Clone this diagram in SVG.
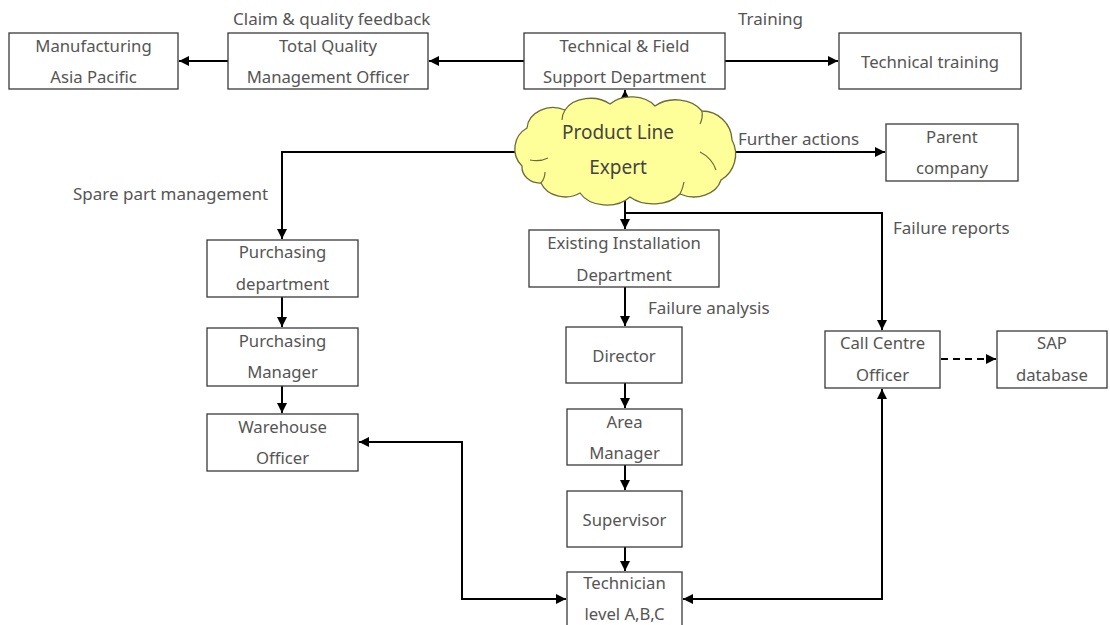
<svg xmlns="http://www.w3.org/2000/svg" width="1110" height="625" viewBox="0 0 1110 625">
  <defs>
    <marker id="arrow" viewBox="0 0 10 10" refX="10" refY="5" markerWidth="5" markerHeight="5" orient="auto-start-reverse" markerUnits="strokeWidth">
      <path d="M0,0 L10,5 L0,10 Z" fill="#000"/>
    </marker>
    <style>
      .box { fill: #fff; stroke: #3a3a3a; stroke-width: 1.3; }
      .lbl { font-family: "Noto Sans", "Open Sans", sans-serif; font-size: 16.7px; fill: #555; text-anchor: middle; dominant-baseline: central; }
      .cap { font-family: "Noto Sans", "Open Sans", sans-serif; font-size: 17px; fill: #555; dominant-baseline: central; }
      .cl { font-family: "Noto Sans", "Open Sans", sans-serif; font-size: 19px; fill: #444; text-anchor: middle; dominant-baseline: central; }
      .ln { fill: none; stroke: #000; stroke-width: 2; }
      .arr { marker-end: url(#arrow); }
      .both { marker-start: url(#arrow); marker-end: url(#arrow); }
      .dash { stroke-dasharray: 7 5; }
    </style>
  </defs>
  <rect width="1110" height="625" fill="#fff"/>

  <!-- connectors -->
  <g id="connectors">
    <line class="ln arr" x1="524" y1="61" x2="429" y2="61"/>
    <line class="ln arr" x1="228" y1="61" x2="179" y2="61"/>
    <line class="ln arr" x1="725" y1="61" x2="838" y2="61"/>
    <line class="ln arr" x1="625" y1="112" x2="625" y2="90"/>
    <line class="ln arr" x1="735" y1="152" x2="885" y2="152"/>
    <polyline class="ln arr" points="515,152 282,152 282,239"/>
    <line class="ln arr" x1="625" y1="196" x2="625" y2="229"/>
    <polyline class="ln arr" points="625,213 882,213 882,330"/>
    <line class="ln arr" x1="282" y1="297" x2="282" y2="327"/>
    <line class="ln arr" x1="282" y1="386" x2="282" y2="413"/>
    <line class="ln arr" x1="625" y1="287" x2="625" y2="326"/>
    <line class="ln arr" x1="625" y1="383" x2="625" y2="408"/>
    <line class="ln arr" x1="625" y1="465" x2="625" y2="490"/>
    <line class="ln arr" x1="625" y1="547" x2="625" y2="571"/>
    <polyline class="ln both" points="359,442 462,442 462,599 566,599"/>
    <polyline class="ln both" points="683,599 882,599 882,389"/>
    <line class="ln arr dash" x1="941" y1="359" x2="996" y2="359"/>
  </g>

  <!-- connector captions -->
  <g id="captions">
    <text class="cap" x="233" y="18">Claim &amp; quality feedback</text>
    <text class="cap" x="738" y="18">Training</text>
    <text class="cap" x="738" y="138">Further actions</text>
    <text class="cap" x="73" y="193">Spare part management</text>
    <text class="cap" x="893" y="227">Failure reports</text>
    <text class="cap" x="648" y="307">Failure analysis</text>
  </g>

  <g id="manufacturing">
    <rect class="box" x="9" y="33" width="169" height="56"/>
    <text class="lbl" x="93.5" y="45">Manufacturing</text>
    <text class="lbl" x="93.5" y="76">Asia Pacific</text>
  </g>

  <g id="tqm-officer">
    <rect class="box" x="228" y="33" width="200" height="56"/>
    <text class="lbl" x="328" y="45">Total Quality</text>
    <text class="lbl" x="328" y="76">Management Officer</text>
  </g>

  <g id="tech-field-support">
    <rect class="box" x="524" y="33" width="201" height="56"/>
    <text class="lbl" x="624.5" y="45">Technical &amp; Field</text>
    <text class="lbl" x="624.5" y="76">Support Department</text>
  </g>

  <g id="technical-training">
    <rect class="box" x="839" y="33" width="182" height="56"/>
    <text class="lbl" x="930" y="61">Technical training</text>
  </g>

  <g id="product-line-expert">
    <path d="M522,166 A24,24 0 0 1 527,128 A26,22 0 0 1 565,110 A28,20 0 0 1 610,104 A28,20 0 0 1 655,106 A30,22 0 0 1 702,111 A30,30 0 0 1 732,140 A30,30 0 0 1 721,180 A28,22 0 0 1 680,194 A32,22 0 0 1 630,197 A30,22 0 0 1 580,193 A26,22 0 0 1 541,183 A18,16 0 0 1 522,166 Z" fill="#ffff99" stroke="#6b6b3a" stroke-width="1.3"/>
    <path d="M530,160 Q540,162 548,158 M541,183 Q545,178 545,172 M700,152 Q712,158 716,170 M680,194 Q683,188 684,182 M565,110 Q562,115 562,120 M702,111 Q703,118 700,124" fill="none" stroke="#6b6b3a" stroke-width="1.2"/>
    <text class="cl" x="618" y="132">Product Line</text>
    <text class="cl" x="618" y="167">Expert</text>
  </g>

  <g id="parent-company">
    <rect class="box" x="886" y="124" width="132" height="57"/>
    <text class="lbl" x="952" y="136">Parent</text>
    <text class="lbl" x="952" y="167">company</text>
  </g>

  <g id="purchasing-department">
    <rect class="box" x="207" y="240" width="151" height="57"/>
    <text class="lbl" x="282.5" y="251">Purchasing</text>
    <text class="lbl" x="282.5" y="283">department</text>
  </g>

  <g id="purchasing-manager">
    <rect class="box" x="207" y="328" width="151" height="58"/>
    <text class="lbl" x="282.5" y="340">Purchasing</text>
    <text class="lbl" x="282.5" y="371">Manager</text>
  </g>

  <g id="warehouse-officer">
    <rect class="box" x="207" y="414" width="151" height="57"/>
    <text class="lbl" x="282.5" y="426">Warehouse</text>
    <text class="lbl" x="282.5" y="457">Officer</text>
  </g>

  <g id="existing-installation">
    <rect class="box" x="529" y="230" width="190" height="57"/>
    <text class="lbl" x="624" y="242">Existing Installation</text>
    <text class="lbl" x="624" y="274">Department</text>
  </g>

  <g id="director">
    <rect class="box" x="566" y="327" width="116" height="56"/>
    <text class="lbl" x="624" y="355">Director</text>
  </g>

  <g id="area-manager">
    <rect class="box" x="567" y="409" width="115" height="56"/>
    <text class="lbl" x="624.5" y="421">Area</text>
    <text class="lbl" x="624.5" y="452">Manager</text>
  </g>

  <g id="supervisor">
    <rect class="box" x="567" y="491" width="115" height="56"/>
    <text class="lbl" x="624.5" y="519">Supervisor</text>
  </g>

  <g id="technician">
    <rect class="box" x="567" y="572" width="115" height="60"/>
    <text class="lbl" x="624.5" y="582">Technician</text>
    <text class="lbl" x="624.5" y="613">level A,B,C</text>
  </g>

  <g id="call-centre-officer">
    <rect class="box" x="825" y="331" width="115" height="57"/>
    <text class="lbl" x="882.5" y="342">Call Centre</text>
    <text class="lbl" x="882.5" y="374">Officer</text>
  </g>

  <g id="sap-database">
    <rect class="box" x="997" y="331" width="110" height="57"/>
    <text class="lbl" x="1052" y="342">SAP</text>
    <text class="lbl" x="1052" y="374">database</text>
  </g>
</svg>
